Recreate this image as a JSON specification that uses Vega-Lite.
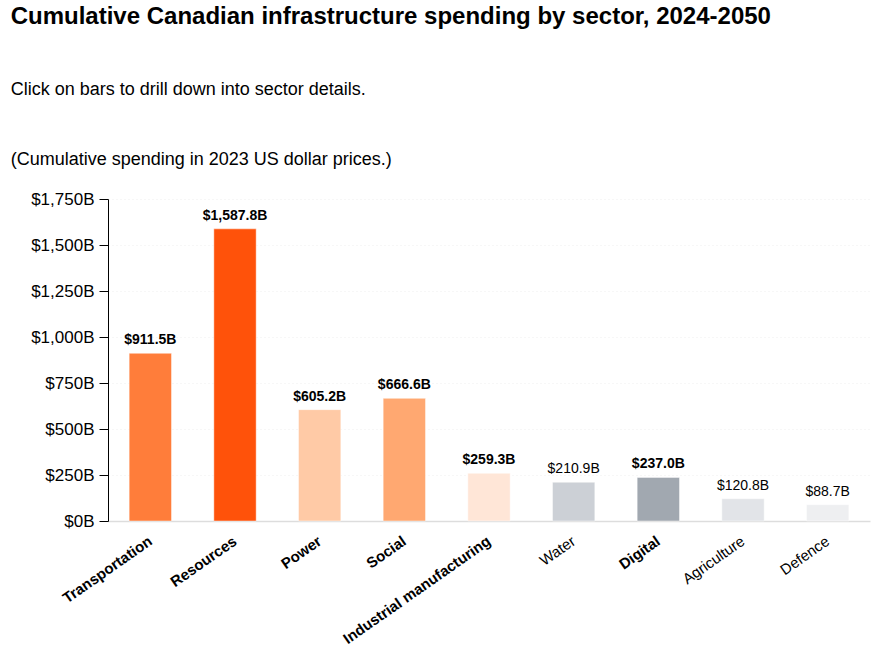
{
  "$schema": "https://vega.github.io/schema/vega-lite/v6.json",
  "width": 762,
  "height": 322,
  "padding": {"left": 10, "top": 5, "right": 5, "bottom": 5},
  "background": "white",
  "view": {"stroke": null},
  "title": {
    "text": "Cumulative Canadian infrastructure spending by sector, 2024-2050",
    "subtitle": ["Click on bars to drill down into sector details.", "(Cumulative spending in 2023 US dollar prices.)"],
    "anchor": "start",
    "frame": "bounds",
    "dx": -20,
    "font": "Liberation Sans",
    "fontSize": 24,
    "fontWeight": "bold",
    "color": "#000000",
    "subtitleFont": "Liberation Sans",
    "subtitleFontSize": 18,
    "subtitleColor": "#000000",
    "subtitleLineHeight": 70,
    "subtitlePadding": 52,
    "offset": 21
  },
  "data": {
    "values": [
      {"sector": "Transportation", "value": 911.5, "drill": true},
      {"sector": "Resources", "value": 1587.8, "drill": true},
      {"sector": "Power", "value": 605.2, "drill": true},
      {"sector": "Social", "value": 666.6, "drill": true},
      {"sector": "Industrial manufacturing", "value": 259.3, "drill": true},
      {"sector": "Water", "value": 210.9, "drill": false},
      {"sector": "Digital", "value": 237.0, "drill": true},
      {"sector": "Agriculture", "value": 120.8, "drill": false},
      {"sector": "Defence", "value": 88.7, "drill": false}
    ]
  },
  "transform": [
    {"calculate": "'$' + format(datum.value, ',.1f') + 'B'", "as": "label"}
  ],
  "encoding": {
    "x": {
      "field": "sector",
      "type": "nominal",
      "sort": null,
      "scale": {"paddingInner": 0.5, "paddingOuter": 0.25},
      "axis": {
        "title": null,
        "labelAngle": -35,
        "labelAlign": "right",
        "labelBaseline": "middle",
        "labelFont": "Liberation Sans",
        "labelFontSize": 15,
        "labelColor": "#000000",
        "labelFontWeight": {
          "condition": {"test": "indexof(['Water','Agriculture','Defence'], datum.value) >= 0", "value": "normal"},
          "value": "bold"
        },
        "labelPadding": 18,
        "ticks": false,
        "domainColor": "#dddddd",
        "domainWidth": 1.5,
        "labelOverlap": false
      }
    },
    "y": {
      "field": "value",
      "type": "quantitative",
      "scale": {"domain": [0, 1750]},
      "axis": {
        "title": null,
        "values": [0, 250, 500, 750, 1000, 1250, 1500, 1750],
        "labelExpr": "'$' + format(datum.value, ',') + 'B'",
        "labelFont": "Liberation Sans",
        "labelFontSize": 17,
        "labelColor": "#000000",
        "labelPadding": 5,
        "tickSize": 9,
        "tickColor": "#000000",
        "domainColor": "#000000",
        "grid": true,
        "gridColor": "#eeeeee",
        "gridDash": [1, 3],
        "gridWidth": 1
      }
    }
  },
  "layer": [
    {
      "mark": {"type": "bar", "stroke": "#ffffff", "strokeOpacity": 0.45, "strokeWidth": 1},
      "encoding": {
        "color": {
          "field": "sector",
          "type": "nominal",
          "legend": null,
          "scale": {
            "domain": ["Transportation", "Resources", "Power", "Social", "Industrial manufacturing", "Water", "Digital", "Agriculture", "Defence"],
            "range": ["#ff7d3a", "#ff520a", "#ffcaa6", "#ffa871", "#ffe6d7", "#ccd0d6", "#a1a8b0", "#e2e4e8", "#eeeff1"]
          }
        }
      }
    },
    {
      "transform": [{"filter": "datum.drill"}],
      "mark": {"type": "text", "baseline": "bottom", "dy": -6, "font": "Liberation Sans", "fontSize": 14, "fontWeight": "bold", "color": "#000000"},
      "encoding": {
        "text": {"field": "label", "type": "nominal"}
      }
    },
    {
      "transform": [{"filter": "!datum.drill"}],
      "mark": {"type": "text", "baseline": "bottom", "dy": -6, "font": "Liberation Sans", "fontSize": 14, "fontWeight": "normal", "color": "#000000"},
      "encoding": {
        "text": {"field": "label", "type": "nominal"}
      }
    }
  ]
}
